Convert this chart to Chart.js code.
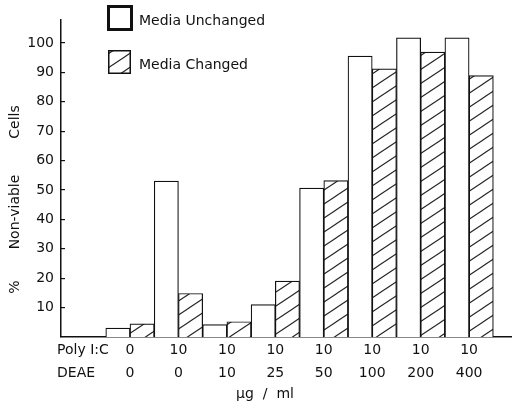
<!DOCTYPE html>
<html>
<head>
<meta charset="utf-8">
<script src="https://cdn.jsdelivr.net/npm/chart.js@4.4.1/dist/chart.umd.min.js"></script>
<style>
  html, body { margin: 0; padding: 0; background: #fff; }
</style>
</head>
<body>
<canvas id="chart" width="512" height="406"></canvas>
<script>
// values
const polyIC = ["0", "10", "10", "10", "10", "10", "10", "10"];
const deae = ["0", "0", "10", "25", "50", "100", "200", "400"];
const mediaUnchanged = [3, 53, 4.2, 11, 50.6, 95.5, 101.7, 101.7];
const mediaChanged = [4.5, 14.8, 5.2, 19, 53.2, 91.2, 96.9, 88.9];
const yTicks = [10, 20, 30, 40, 50, 60, 70, 80, 90, 100];

const ink = "#111";
const font = { family: "DejaVu Sans", size: 14 };

// diagonal hatch for the "Media Changed" bars
function makeHatch() {
  const c = document.createElement("canvas");
  c.width = 21;
  c.height = 14;
  const g = c.getContext("2d");
  g.fillStyle = "#fff";
  g.fillRect(0, 0, 21, 14);
  g.strokeStyle = "#222";
  g.lineWidth = 1.1;
  for (let k = -1; k <= 1; k++) {
    g.beginPath();
    g.moveTo(-21, 28 + k * 14);
    g.lineTo(42, -14 + k * 14);
    g.stroke();
  }
  return g.createPattern(c, "repeat");
}
const hatch = makeHatch();

// text that sits outside the normal axis/legend slots
const extras = {
  id: "extras",
  afterDraw(chart) {
    const ctx = chart.ctx;
    const ds = chart.data.datasets;
    ctx.save();
    ctx.fillStyle = ink;
    ctx.font = "14px 'DejaVu Sans'";
    ctx.textBaseline = "middle";

    // row labels for the two x rows
    ctx.textAlign = "left";
    ctx.fillText("Poly I:C", 57, 350);
    ctx.fillText("DEAE", 57, 373);

    // x title
    ctx.textAlign = "center";
    ctx.fillText("\u00b5g  /  ml", 265, 394);

    // y title, rotated
    [["Cells", 122], ["Non-viable", 212], ["%", 287]].forEach(([t, y]) => {
      ctx.save();
      ctx.translate(15, y);
      ctx.rotate(-Math.PI / 2);
      ctx.fillText(t, 0, 0);
      ctx.restore();
    });

    // legend
    ctx.textAlign = "left";
    ctx.fillStyle = ds[0].backgroundColor;
    ctx.fillRect(107, 5, 26, 26);
    ctx.strokeStyle = ink;
    ctx.lineWidth = 3;
    ctx.strokeRect(108.5, 6.5, 23, 23);
    ctx.fillStyle = ink;
    ctx.fillText(ds[0].label, 139, 21);

    ctx.fillStyle = ds[1].backgroundColor;
    ctx.fillRect(108, 50, 23, 24);
    ctx.lineWidth = 1.5;
    ctx.strokeRect(108.75, 50.75, 21.5, 22.5);
    ctx.fillStyle = ink;
    ctx.fillText(ds[1].label, 139, 65);
    ctx.restore();
  }
};

new Chart(document.getElementById("chart"), {
  type: "bar",
  data: {
    datasets: [
      {
        label: "Media Unchanged",
        data: mediaUnchanged.map((v, i) => ({ x: i + 1, y: v })),
        backgroundColor: "#fff",
        borderColor: ink,
        borderWidth: 1.2
      },
      {
        label: "Media Changed",
        data: mediaChanged.map((v, i) => ({ x: i + 1, y: v })),
        backgroundColor: hatch,
        borderColor: ink,
        borderWidth: 1.2
      }
    ]
  },
  options: {
    responsive: false,
    animation: false,
    devicePixelRatio: 1,
    layout: { padding: { top: 7, right: 0, left: 0, bottom: 0 } },
    datasets: { bar: { categoryPercentage: 1, barPercentage: 1 } },
    plugins: { legend: { display: false }, tooltip: { enabled: false } },
    scales: {
      x: {
        type: "linear",
        offset: false,
        min: -0.424,
        max: 8.885,
        grid: { display: false, drawTicks: false, offset: false },
        border: { display: true, color: ink, width: 1.5 },
        afterBuildTicks: s => { s.ticks = polyIC.map((_, i) => ({ value: i + 1 })); },
        ticks: {
          autoSkip: false,
          maxRotation: 0,
          padding: 1.5,
          color: ink,
          font: { family: font.family, size: 14, lineHeight: 23 / 14 },
          callback: (v, i) => [polyIC[i], deae[i]]
        },
        afterFit: s => { s.height = 69; }
      },
      y: {
        min: 0,
        max: 108,
        afterBuildTicks: s => { s.ticks = yTicks.map(v => ({ value: v })); },
        grid: { drawOnChartArea: false, drawTicks: true, tickLength: -4, color: ink, lineWidth: 1.2 },
        border: { color: ink, width: 1.5 },
        ticks: { padding: 11, color: ink, font: font },
        afterFit: s => { s.width = 61; }
      }
    }
  },
  plugins: [extras]
});
</script>
</body>
</html>
